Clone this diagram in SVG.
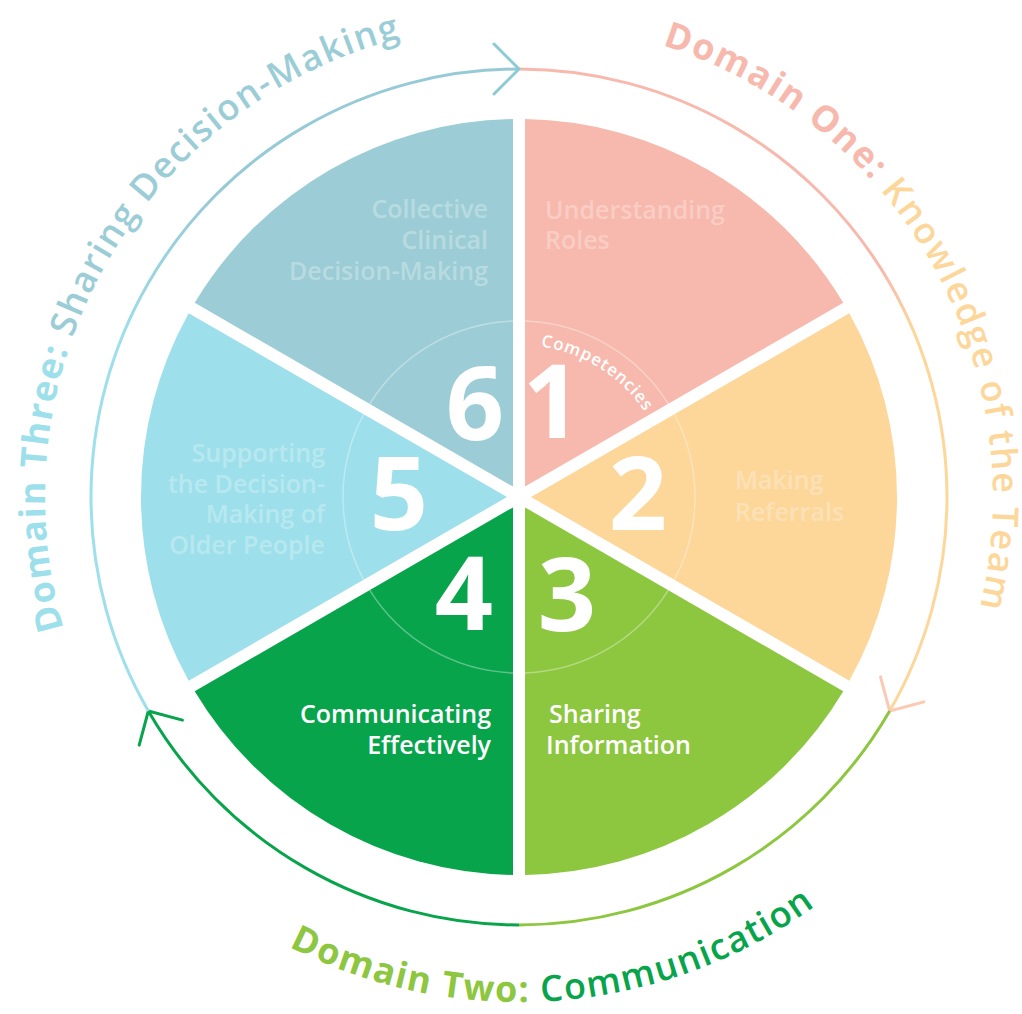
<svg xmlns="http://www.w3.org/2000/svg" width="1022" height="1014" viewBox="0 0 1022 1014">
<style>
.lbl{font-family:"Open Sans","Noto Sans",sans-serif;font-weight:600;font-size:25px}
.faint{fill:#fff;fill-opacity:0.3}
.wht{fill:#fff}
.num{font-family:"Open Sans","Noto Sans",sans-serif;font-weight:700;font-size:102px;fill:#fff;text-anchor:middle}
.inner{fill:none;stroke:#fff;stroke-opacity:0.35;stroke-width:1.5}
.ring{fill:none;stroke-width:3}
.dom{font-family:"Open Sans","Noto Sans",sans-serif;font-size:36px}
.b{font-weight:700}
.m{font-weight:600}
.end{text-anchor:end}
</style>
<defs>
<linearGradient id="g-one" gradientUnits="userSpaceOnUse" x1="0" y1="270" x2="0" y2="330">
<stop offset="0" stop-color="#f7b9ad"/><stop offset="1" stop-color="#fdd69a"/>
</linearGradient>
<linearGradient id="g-three" gradientUnits="userSpaceOnUse" x1="0" y1="200" x2="0" y2="340">
<stop offset="0" stop-color="#96cad6"/><stop offset="1" stop-color="#9ddfea"/>
</linearGradient>
<marker id="ah-blue" markerUnits="userSpaceOnUse" markerWidth="60" markerHeight="60" viewBox="-30 -30 60 60" refX="0" refY="0" orient="auto" overflow="visible"><path d="M-25,-25 L0,0 L-25,25" fill="none" stroke="#8ccad6" stroke-width="3" stroke-linecap="round" stroke-linejoin="round"/></marker>
<marker id="ah-salmon" markerUnits="userSpaceOnUse" markerWidth="60" markerHeight="60" viewBox="-30 -30 60 60" refX="0" refY="0" orient="auto" overflow="visible"><path d="M-25,-25 L0,0 L-25,25" fill="none" stroke="#fbcab3" stroke-width="3" stroke-linecap="round" stroke-linejoin="round"/></marker>
<marker id="ah-green" markerUnits="userSpaceOnUse" markerWidth="60" markerHeight="60" viewBox="-30 -30 60 60" refX="0" refY="0" orient="auto" overflow="visible"><path d="M-25,-25 L0,0 L-25,25" fill="none" stroke="#07a44b" stroke-width="3" stroke-linecap="round" stroke-linejoin="round"/></marker>
<path id="p-one" d="M662.3,45.2 A474,474 0 0 1 929.5,734"/>
<path id="p-two" d="M289,946.6 A505,505 0 0 0 876.1,854.1"/>
<path id="p-three" d="M63.6,628.5 A474,474 0 0 1 756,86.5"/>
<path id="p-comp" d="M540.7,346.5 A152,152 0 0 1 665.8,457.7"/>
</defs>

<g id="sector-1">
<path fill="#f7b9ad" d="M525,486.6 L525,119.05 A378,378 0 0 1 843.3,302.84 Z"/>
<path class="inner" d="M525,321.1 A176,176 0 0 1 668.33,403.85"/>
<text class="num" x="552" y="438">1</text>
<text class="lbl faint"><tspan x="545" y="219">Understanding</tspan><tspan x="545" y="249">Roles</tspan></text>
</g>
<g id="sector-2">
<path fill="#fdd69a" d="M531,497 L849.32,313.22 A378,378 0 0 1 849.32,680.78 Z"/>
<path class="inner" d="M674.34,414.25 A176,176 0 0 1 674.34,579.75"/>
<text class="num" x="638" y="530">2</text>
<text class="lbl faint"><tspan x="735" y="489">Making</tspan><tspan x="735" y="521">Referrals</tspan></text>
</g>
<g id="sector-3">
<path fill="#8dc63f" d="M525,507.39 L843.3,691.16 A378,378 0 0 1 525,874.95 Z"/>
<path class="inner" d="M668.33,590.15 A176,176 0 0 1 525,672.9"/>
<text class="num" x="567" y="631">3</text>
<text class="lbl wht"><tspan x="549" y="723">Sharing</tspan><tspan x="546" y="754">Information</tspan></text>
</g>
<g id="sector-4">
<path fill="#07a44b" d="M513,507.39 L513,874.95 A378,378 0 0 1 194.7,691.16 Z"/>
<path class="inner" d="M513,672.9 A176,176 0 0 1 369.67,590.15"/>
<text class="num" x="464" y="630">4</text>
<text class="lbl wht end"><tspan x="491" y="723">Communicating</tspan><tspan x="491" y="754">Effectively</tspan></text>
</g>
<g id="sector-5">
<path fill="#9ddfea" d="M507,497 L188.68,680.78 A378,378 0 0 1 188.68,313.22 Z"/>
<path class="inner" d="M363.66,579.75 A176,176 0 0 1 363.66,414.25"/>
<text class="num" x="399" y="530">5</text>
<text class="lbl faint end"><tspan x="325" y="462">Supporting</tspan><tspan x="325" y="493">the Decision-</tspan><tspan x="325" y="523">Making of</tspan><tspan x="325" y="554">Older People</tspan></text>
</g>
<g id="sector-6">
<path fill="#9ccdd6" d="M513,486.61 L194.7,302.84 A378,378 0 0 1 513,119.05 Z"/>
<path class="inner" d="M369.67,403.85 A176,176 0 0 1 513,321.1"/>
<text class="num" x="475" y="440">6</text>
<text class="lbl faint end"><tspan x="488" y="218">Collective</tspan><tspan x="488" y="249">Clinical</tspan><tspan x="488" y="280">Decision-Making</tspan></text>
</g>
<g id="competencies">
<text font-family="Open Sans, Noto Sans, sans-serif" font-weight="600" font-size="17" fill="#fff"><textPath href="#p-comp" textLength="126" lengthAdjust="spacing">Competencies</textPath></text>
</g>

<g id="connectors">
<path class="ring" stroke="url(#g-one)" d="M519,69 A428,428 0 0 1 889.66,711" marker-end="url(#ah-salmon)"/>
<path class="ring" stroke="#8dc63f" d="M889.66,711 A428,428 0 0 1 519,925"/>
<path class="ring" stroke="#07a44b" d="M519,925 A428,428 0 0 1 148.34,711" marker-end="url(#ah-green)"/>
<path class="ring" stroke="url(#g-three)" d="M148.34,711 A428,428 0 0 1 519,69" marker-end="url(#ah-blue)"/>
</g>

<g id="domain-labels">
<text class="dom"><textPath href="#p-one" textLength="710" lengthAdjust="spacing"><tspan class="b" fill="#f7b9ad">Domain One: </tspan><tspan class="m" fill="#fdd69a">Knowledge of the Team</tspan></textPath></text>
<text class="dom"><textPath href="#p-two" textLength="555" lengthAdjust="spacing"><tspan class="b" fill="#8dc63f">Domain Two: </tspan><tspan class="m" fill="#07a44b">Communication</tspan></textPath></text>
<text class="dom"><textPath href="#p-three" textLength="758" lengthAdjust="spacing"><tspan class="b" fill="#9ddfea">Domain Three: </tspan><tspan class="m" fill="#9bcdd7">Sharing Decision-Making</tspan></textPath></text>
</g>
</svg>
